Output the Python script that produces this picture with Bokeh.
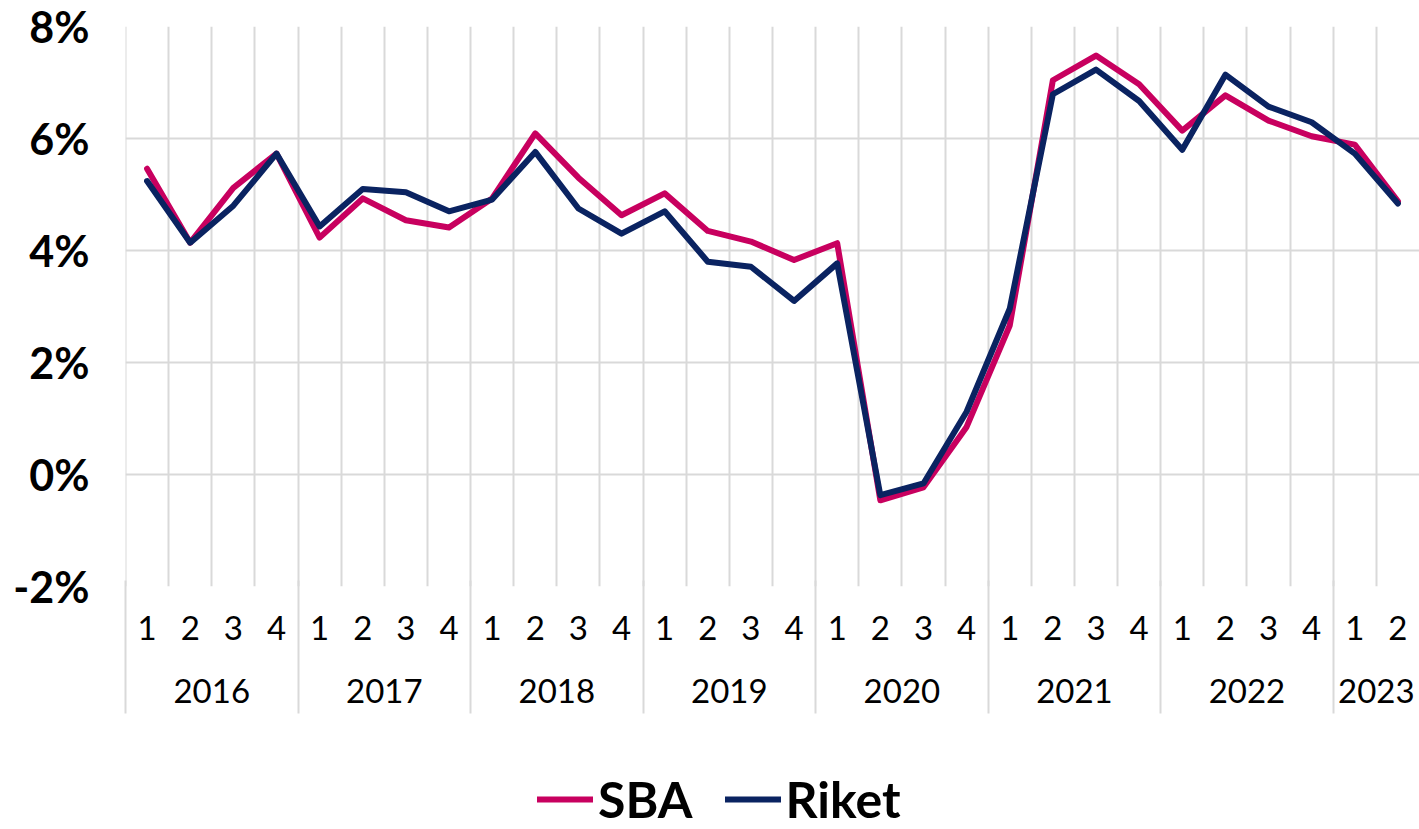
from bokeh.plotting import figure
from bokeh.layouts import column
from bokeh.models import (Range1d, FixedTicker, PrintfTickFormatter, LinearAxis,
                          Legend, LegendItem, ColumnDataSource, Span)
from bokeh.embed import file_html
from bokeh.resources import INLINE

years = ["2016"] * 4 + ["2017"] * 4 + ["2018"] * 4 + ["2019"] * 4 + \
        ["2020"] * 4 + ["2021"] * 4 + ["2022"] * 4 + ["2023"] * 2
quarters = ["1", "2", "3", "4"] * 7 + ["1", "2"]

sba = [5.46, 4.14, 5.12, 5.73, 4.23, 4.93, 4.54, 4.41, 4.93, 6.09,
       5.30, 4.63, 5.02, 4.35, 4.16, 3.83, 4.13, -0.46, -0.23, 0.85,
       2.66, 7.04, 7.48, 6.97, 6.14, 6.77, 6.32, 6.04, 5.89, 4.88]
riket = [5.24, 4.14, 4.80, 5.73, 4.43, 5.10, 5.04, 4.70, 4.91, 5.76,
         4.75, 4.30, 4.70, 3.80, 3.71, 3.10, 3.77, -0.37, -0.16, 1.12,
         2.96, 6.79, 7.23, 6.67, 5.80, 7.14, 6.57, 6.29, 5.73, 4.84]

y_ticks = [-2, 0, 2, 4, 6, 8]

FONT = "Lato"
GRID = "#d9d9d9"
C_SBA = "#C8005F"
C_RIKET = "#0A2361"
LW = 6

n = len(quarters)
xs = [i + 0.5 for i in range(n)]
year_names = list(dict.fromkeys(years))
year_starts = [years.index(y) for y in year_names]
year_centers = [sum(x for x, yy in zip(xs, years) if yy == y) / years.count(y)
                for y in year_names]

src = ColumnDataSource(dict(x=xs, sba=sba, riket=riket))

p = figure(width=1419, height=768, output_backend="svg", toolbar_location=None,
           x_range=Range1d(0, n), y_range=Range1d(-2, 8),
           min_border_left=125, min_border_right=0, min_border_top=26,
           min_border_bottom=182)
p.outline_line_color = None

# grid
p.xgrid.ticker = FixedTicker(ticks=list(range(n + 1)))
p.xgrid.grid_line_color = GRID
p.xgrid.grid_line_width = 2
p.ygrid.ticker = FixedTicker(ticks=y_ticks)
p.ygrid.grid_line_color = GRID
p.ygrid.grid_line_width = 2
p.add_layout(Span(location=0, dimension="height", line_color=GRID,
                  line_width=2, level="underlay"))

# y axis
ya = p.yaxis[0]
ya.ticker = FixedTicker(ticks=y_ticks)
ya.formatter = PrintfTickFormatter(format="%d%%")
ya.axis_line_color = None
ya.major_tick_line_color = None
ya.minor_tick_line_color = None
ya.major_label_standoff = 30
ya.major_label_text_font = FONT
ya.major_label_text_font_style = "bold"
ya.major_label_text_font_size = "43px"
ya.major_label_text_color = "black"

# quarter axis
qa = p.xaxis[0]
qa.ticker = FixedTicker(ticks=xs, minor_ticks=[])
qa.major_label_overrides = {x: q for x, q in zip(xs, quarters)}
qa.axis_line_color = None
qa.major_tick_line_color = None
qa.minor_tick_line_color = None
qa.major_label_standoff = 23
qa.major_label_text_font = FONT
qa.major_label_text_font_size = "33px"
qa.major_label_text_color = "black"

# year axis
ax = LinearAxis(ticker=FixedTicker(ticks=year_centers, minor_ticks=[]),
                major_label_overrides={x: y for x, y in zip(year_centers, year_names)})
ax.axis_line_color = None
ax.major_tick_line_color = None
ax.minor_tick_line_color = None
ax.major_label_standoff = 30
ax.major_label_text_font = FONT
ax.major_label_text_font_size = "33px"
ax.major_label_text_color = "black"
p.add_layout(ax, "below")

# year separators: label-less axis whose minor ticks reach up to the plot
sep = LinearAxis(ticker=FixedTicker(ticks=[], minor_ticks=year_starts))
sep.axis_line_color = None
sep.major_tick_line_color = None
sep.major_label_text_font_size = "0px"
sep.minor_tick_line_color = GRID
sep.minor_tick_line_width = 2
sep.minor_tick_in = 125
sep.minor_tick_out = 8
p.add_layout(sep, "below")

p.line("x", "sba", source=src, line_color=C_SBA, line_width=LW,
       line_join="round", line_cap="round")
p.line("x", "riket", source=src, line_color=C_RIKET, line_width=LW,
       line_join="round", line_cap="round")

# legend strip (its lines lie outside its own visible range)
pl = figure(width=1419, height=61, output_backend="svg", toolbar_location=None,
            x_axis_type=None, y_axis_type=None, min_border=0,
            x_range=Range1d(0, n), y_range=Range1d(100, 101))
pl.outline_line_color = None
pl.xgrid.visible = False
pl.ygrid.visible = False
l1 = pl.line("x", "sba", source=src, line_color=C_SBA, line_width=LW, line_cap="round")
l2 = pl.line("x", "riket", source=src, line_color=C_RIKET, line_width=LW, line_cap="round")
legend = Legend(items=[LegendItem(label="SBA", renderers=[l1]),
                       LegendItem(label="Riket", renderers=[l2])],
                orientation="horizontal", location=(412, 0),
                glyph_width=56, glyph_height=40, label_standoff=5, spacing=32,
                padding=0, margin=0, border_line_color=None,
                background_fill_alpha=0,
                label_text_font=FONT, label_text_font_style="bold",
                label_text_font_size="50px", label_text_color="black")
pl.add_layout(legend, "center")

layout = column(p, pl, spacing=0)
open("out.html", "w").write(file_html(layout, INLINE))
